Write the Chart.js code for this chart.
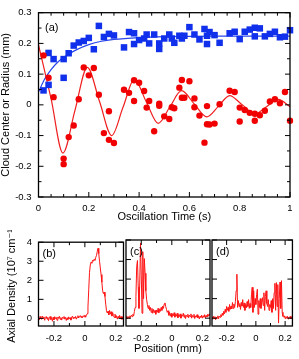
<!DOCTYPE html>
<html><head><meta charset="utf-8">
<script src="https://cdn.jsdelivr.net/npm/chart.js@4/dist/chart.umd.min.js"></script>
<style>
html,body{margin:0;padding:0;background:#fff;width:299px;height:359px;overflow:hidden;position:relative;}
canvas{position:absolute;left:0;}
#top{top:0;} #pb,#pc,#pd{top:230px;}
</style></head><body>
<canvas id="top" width="299" height="228"></canvas>
<canvas id="pb" width="299" height="129"></canvas>
<canvas id="pc" width="299" height="129"></canvas>
<canvas id="pd" width="299" height="129"></canvas>
<script>
// ---------- top panel (a) data ----------
const blueT = [0.02,0.04,0.04,0.06,0.10,0.10,0.12,0.14,0.16,0.18,0.20,0.22,0.24,0.26,0.28,0.30,0.34,0.36,0.38,0.38,0.40,0.42,0.43,0.44,0.46,0.48,0.48,0.50,0.52,0.53,0.54,0.56,0.57,0.58,0.60,0.62,0.64,0.66,0.67,0.67,0.68,0.70,0.72,0.76,0.78,0.80,0.82,0.84,0.86,0.86,0.88,0.90,0.92,0.94,0.96,0.98,1.00];
const blueY = [0.047,0.065,0.169,0.149,0.149,0.088,0.168,0.193,0.203,0.208,0.218,0.181,0.257,0.221,0.231,0.226,0.187,0.237,0.233,0.198,0.211,0.216,0.229,0.200,0.229,0.200,0.182,0.216,0.229,0.216,0.202,0.225,0.216,0.225,0.253,0.229,0.213,0.247,0.225,0.198,0.237,0.227,0.202,0.233,0.238,0.214,0.238,0.245,0.251,0.223,0.249,0.223,0.231,0.238,0.220,0.222,0.243];
const redT = [0.02,0.04,0.06,0.10,0.10,0.12,0.14,0.16,0.18,0.20,0.22,0.24,0.26,0.28,0.28,0.30,0.34,0.36,0.38,0.38,0.40,0.42,0.43,0.44,0.46,0.48,0.48,0.50,0.52,0.53,0.54,0.56,0.57,0.57,0.58,0.60,0.62,0.62,0.64,0.66,0.67,0.67,0.68,0.70,0.72,0.76,0.78,0.80,0.80,0.82,0.84,0.86,0.86,0.88,0.90,0.92,0.94,0.96,0.98,1.00];
const redY = [0.161,0.088,0.025,-0.175,-0.193,-0.105,-0.067,0.018,0.122,0.096,0.120,0.033,-0.092,-0.021,-0.114,-0.124,0.049,0.039,0.080,0.0125,0.072,0.045,-0.009,0.0125,-0.086,0.004,-0.003,-0.0375,-0.046,-0.008,-0.011,0.056,0.081,0.023,0.023,0.077,0.021,-0.008,-0.035,-0.123,-0.004,-0.063,-0.064,-0.061,0.002,0.046,0.042,-0.009,-0.054,-0.017,-0.026,-0.029,-0.052,-0.034,-0.019,0.011,0.018,0.005,0.042,-0.052];
const blueFitT = [0,0.025,0.05,0.075,0.1,0.15,0.2,0.25,0.3,0.4,0.5,0.7,1.0];
const blueFitY = [0.042,0.085,0.115,0.138,0.155,0.179,0.196,0.207,0.213,0.219,0.222,0.224,0.224];
const redFitT = [0,0.05,0.097,0.145,0.194,0.243,0.291,0.336,0.381,0.428,0.476,0.522,0.569,0.619,0.669,0.715,0.76,0.81,0.861,0.908,0.954,1.0];
const redFitY = [0.195,0.02,-0.157,-0.018,0.122,0.01,-0.100,-0.008,0.083,0.011,-0.060,-0.007,0.046,0.003,-0.039,-0.005,0.030,0.000,-0.029,-0.005,0.018,-0.006];
const topXMajor = [0,0.2,0.4,0.6,0.8,1];
const topXMinor = [0.05,0.1,0.15,0.25,0.3,0.35,0.45,0.5,0.55,0.65,0.7,0.75,0.85,0.9,0.95];
const topYMajor = [-0.3,-0.2,-0.1,0,0.1,0.2,0.3];
const topYMinor = [-0.25,-0.15,-0.05,0.05,0.15,0.25];

// ---------- bottom panels (b),(c),(d) data ----------
const posGrid = [-0.300,-0.295,-0.290,-0.285,-0.280,-0.275,-0.270,-0.265,-0.260,-0.255,-0.250,-0.245,-0.240,-0.235,-0.230,-0.225,-0.220,-0.215,-0.210,-0.205,-0.200,-0.195,-0.190,-0.185,-0.180,-0.175,-0.170,-0.165,-0.160,-0.155,-0.150,-0.145,-0.140,-0.135,-0.130,-0.125,-0.120,-0.115,-0.110,-0.105,-0.100,-0.095,-0.090,-0.085,-0.080,-0.075,-0.070,-0.065,-0.060,-0.055,-0.050,-0.045,-0.040,-0.035,-0.030,-0.025,-0.020,-0.015,-0.010,-0.005,0.000,0.005,0.010,0.015,0.020,0.025,0.030,0.035,0.040,0.045,0.050,0.055,0.060,0.065,0.070,0.075,0.080,0.085,0.090,0.095,0.100,0.105,0.110,0.115,0.120,0.125,0.130,0.135,0.140,0.145,0.150,0.155,0.160,0.165,0.170,0.175,0.180,0.185,0.190,0.195,0.200,0.205,0.210,0.215,0.220,0.225,0.230,0.235,0.240,0.245,0.250];
const densB = [0.05,-0.08,0.10,0.02,-0.05,0.12,0.00,0.08,-0.10,0.05,
 0.10,-0.04,0.06,-0.12,0.03,0.10,-0.06,0.04,-0.15,0.06,
 -0.08,0.09,-0.02,0.05,-0.10,0.07,0.00,0.11,-0.05,0.04,
 -0.09,0.06,0.01,0.10,-0.04,0.05,-0.11,0.03,-0.06,0.08,
 -0.03,0.04,-0.09,0.06,0.12,-0.02,0.07,0.01,0.10,-0.04,
 0.06,0.14,0.02,0.09,0.15,0.05,0.12,0.03,0.14,0.08,
 0.18,0.06,0.15,0.25,0.60,1.50,2.40,2.80,2.95,2.90,
 3.05,3.00,3.10,3.05,3.20,3.30,3.50,3.68,3.40,3.00,
 2.65,2.30,1.90,1.45,1.30,1.38,1.15,0.75,0.40,0.28,
 0.38,0.18,0.42,0.22,0.35,0.12,0.30,0.15,0.05,0.22,
 0.02,0.14,-0.04,0.10,0.02,0.16,-0.02,0.10,-0.05,0.08,
 0.03];
const densC = [0.02,0.10,-0.04,0.08,0.00,0.12,0.05,0.15,0.08,0.20,
 0.12,0.35,0.55,1.10,2.65,2.95,1.60,0.50,1.80,3.85,
 2.20,0.25,3.40,1.00,3.05,2.30,1.40,0.95,0.70,0.50,
 0.65,0.40,0.55,0.30,0.50,0.25,0.45,0.28,0.40,0.20,
 0.42,0.30,0.50,0.28,0.45,0.35,0.55,0.40,0.62,0.50,
 0.72,0.78,0.60,0.45,0.30,0.38,0.15,0.30,0.10,0.25,
 0.05,0.22,0.12,0.28,0.05,0.20,0.10,0.25,0.02,0.18,
 0.08,0.22,0.00,0.15,0.10,0.25,0.05,0.18,-0.02,0.15,
 0.08,0.20,0.02,0.16,0.08,0.22,0.00,0.14,0.06,0.20,
 -0.02,0.12,0.05,0.18,0.02,0.12,-0.04,0.10,0.04,0.16,
 0.00,0.12,0.05,0.18,0.02,0.14,0.06,0.20,0.10,0.22,0.12];
const densD = [0.05,-0.05,0.10,-0.02,0.08,-0.08,0.06,0.00,0.12,-0.03,
 0.10,0.05,0.18,0.08,0.25,0.15,0.35,0.22,0.45,0.30,
 0.60,0.40,0.55,0.35,0.70,0.45,0.62,0.48,0.80,0.50,
 0.72,0.55,0.85,1.40,2.25,0.55,0.90,0.60,0.75,0.45,
 0.80,0.62,0.95,0.55,0.78,0.40,0.70,0.52,0.85,0.60,
 0.95,0.50,0.75,0.55,1.20,1.58,0.30,1.40,0.55,1.00,
 0.70,1.20,1.48,0.20,0.90,0.55,1.00,0.50,0.80,1.05,
 0.65,1.30,0.40,1.10,1.40,0.75,0.60,0.95,0.40,0.70,
 0.55,0.90,0.30,1.00,0.50,1.30,1.78,0.40,1.82,0.60,
 1.72,-0.25,1.00,1.85,0.50,1.92,0.30,0.10,0.05,0.12,
 -0.02,0.08,0.00,0.10,-0.04,0.06,0.02,0.10,-0.03,0.05,0.08];
const botXMajor = [-0.2,0,0.2];
const botXMinor = [-0.1,0.1];
const botYMajor = [0,1,2,3,4];

// ---------- styling ----------
const FONT = "'Liberation Sans', Arial, Helvetica, 'DejaVu Sans', sans-serif";
Chart.defaults.font.family = FONT;
Chart.defaults.color = '#000';
const BLUE = 'rgb(16,48,235)', BLUEL = 'rgb(40,70,235)';
const RED = 'rgb(240,0,0)', REDL = 'rgb(240,30,30)';
const zip = (xs, ys) => xs.map((x, i) => ({x, y: ys[i]}));
const NOGRID = { display: false, drawTicks: false };

function makeFrame(cfg) {
  return {
    id: 'frame',
    afterDraw(chart) {
      const {ctx, chartArea: a} = chart;
      const xs = chart.scales.x, ys = chart.scales.y;
      ctx.save();
      ctx.strokeStyle = '#000';
      ctx.lineWidth = 1;
      const seg = (x1,y1,x2,y2) => { ctx.beginPath(); ctx.moveTo(x1,y1); ctx.lineTo(x2,y2); ctx.stroke(); };
      const xt = (vals, len) => vals.forEach(v => { const p = xs.getPixelForValue(v); seg(p, a.bottom, p, a.bottom - len); seg(p, a.top, p, a.top + len); });
      const yt = (vals, len) => vals.forEach(v => { const p = ys.getPixelForValue(v); seg(a.left, p, a.left + len, p); seg(a.right, p, a.right - len, p); });
      xt(cfg.xMajor, 5); xt(cfg.xMinor, 3);
      yt(cfg.yMajor, 5); yt(cfg.yMinor, 3);
      ctx.lineWidth = 1.3;
      ctx.strokeRect(a.left, a.top, a.right - a.left, a.bottom - a.top);
      ctx.font = '11px ' + FONT;
      ctx.fillStyle = '#000';
      ctx.textBaseline = 'middle';
      ctx.textAlign = 'left';
      ctx.fillText(cfg.label, a.left + cfg.lx, a.top + cfg.ly);
      ctx.restore();
    }
  };
}

// ---------- top chart ----------
new Chart(document.getElementById('top'), {
  type: 'scatter',
  data: { datasets: [
    { data: zip(redT, redY), pointStyle: 'circle', pointRadius: 3.2, backgroundColor: RED, borderWidth: 0, clip: false, order: 0 },
    { data: zip(blueT, blueY), pointStyle: 'rect', pointRadius: 4.6, backgroundColor: BLUE, borderWidth: 0, clip: false, order: 1 },
    { data: zip(blueFitT, blueFitY), showLine: true, pointRadius: 0, borderColor: BLUEL, borderWidth: 1.2, cubicInterpolationMode: 'monotone', order: 2 },
    { data: zip(redFitT, redFitY), showLine: true, pointRadius: 0, borderColor: REDL, borderWidth: 1.2, cubicInterpolationMode: 'monotone', order: 3 }
  ]},
  options: {
    responsive: false, animation: false, devicePixelRatio: 1,
    layout: { padding: { left: 0, right: 9, top: 5, bottom: 0 } },
    plugins: { legend: { display: false }, tooltip: { enabled: false } },
    scales: {
      x: { type: 'linear', min: 0, max: 1,
        grid: NOGRID, border: { display: false },
        afterBuildTicks: s => { s.ticks = topXMajor.map(v => ({ value: v })); },
        afterFit: s => { s.height = 31; },
        ticks: { padding: 6, font: { size: 9.5 }, maxRotation: 0, autoSkip: false, callback: v => String(v) },
        title: { display: true, text: 'Oscillation Time (s)', font: { size: 11, lineHeight: 1 }, padding: { top: 0, bottom: 5.5 } } },
      y: { type: 'linear', min: -0.3, max: 0.3,
        grid: NOGRID, border: { display: false },
        afterBuildTicks: s => { s.ticks = topYMajor.map(v => ({ value: v })); },
        afterFit: s => { s.width = 38.5; },
        ticks: { padding: 7, font: { size: 9.5 }, autoSkip: false, callback: v => String(v) },
        title: { display: true, text: 'Cloud Center or Radius (mm)', font: { size: 11, lineHeight: 1 }, padding: { top: 0, bottom: 0 } } }
    }
  },
  plugins: [makeFrame({ xMajor: topXMajor, xMinor: topXMinor, yMajor: topYMajor, yMinor: topYMinor, label: '(a)', lx: 6.5, ly: 15.5 })]
});

// ---------- bottom panels ----------
function panel(id, dens, label, padL, padR, isFirst, isMid) {
  return new Chart(document.getElementById(id), {
    type: 'scatter',
    data: { datasets: [
      { data: zip(posGrid, dens), showLine: true, pointRadius: 0, borderColor: 'rgb(255,20,20)', borderWidth: 1, tension: 0 }
    ]},
    options: {
      responsive: false, animation: false, devicePixelRatio: 1,
      layout: { padding: { left: padL, right: padR, top: 10, bottom: 0 } },
      plugins: { legend: { display: false }, tooltip: { enabled: false } },
      scales: {
        x: { type: 'linear', min: -0.3, max: 0.25,
          grid: NOGRID, border: { display: false },
          afterBuildTicks: s => { s.ticks = botXMajor.map(v => ({ value: v })); },
          afterFit: s => { s.height = 33; },
          ticks: { padding: 7, font: { size: 9.5 }, maxRotation: 0, autoSkip: false, callback: v => String(v) },
          title: { display: isMid, text: 'Position (mm)', font: { size: 11, lineHeight: 1 }, padding: { top: 0, bottom: 4.5 } } },
        y: { type: 'linear', min: -0.4, max: 4,
          grid: NOGRID, border: { display: false },
          afterBuildTicks: s => { s.ticks = botYMajor.map(v => ({ value: v })); },
          afterFit: s => { s.width = isFirst ? 38.5 : 0; },
          ticks: { display: isFirst, padding: 6.5, font: { size: 9.5 }, autoSkip: false, callback: v => String(v) },
          title: { display: isFirst, text: 'Axial Density (10⁷ cm⁻¹)', font: { size: 11, lineHeight: 1 }, padding: { top: 6.5, bottom: 0 } } }
      }
    },
    plugins: [makeFrame({ xMajor: botXMajor, xMinor: botXMinor, yMajor: botYMajor, yMinor: [], label: label, lx: 4, ly: 11.5 })]
  });
}
panel('pb', densB, '(b)', 0, 175.5, true, false);
panel('pc', densC, '(c)', 126, 89, false, true);
panel('pd', densD, '(d)', 212, 3, false, false);
</script></body></html>
